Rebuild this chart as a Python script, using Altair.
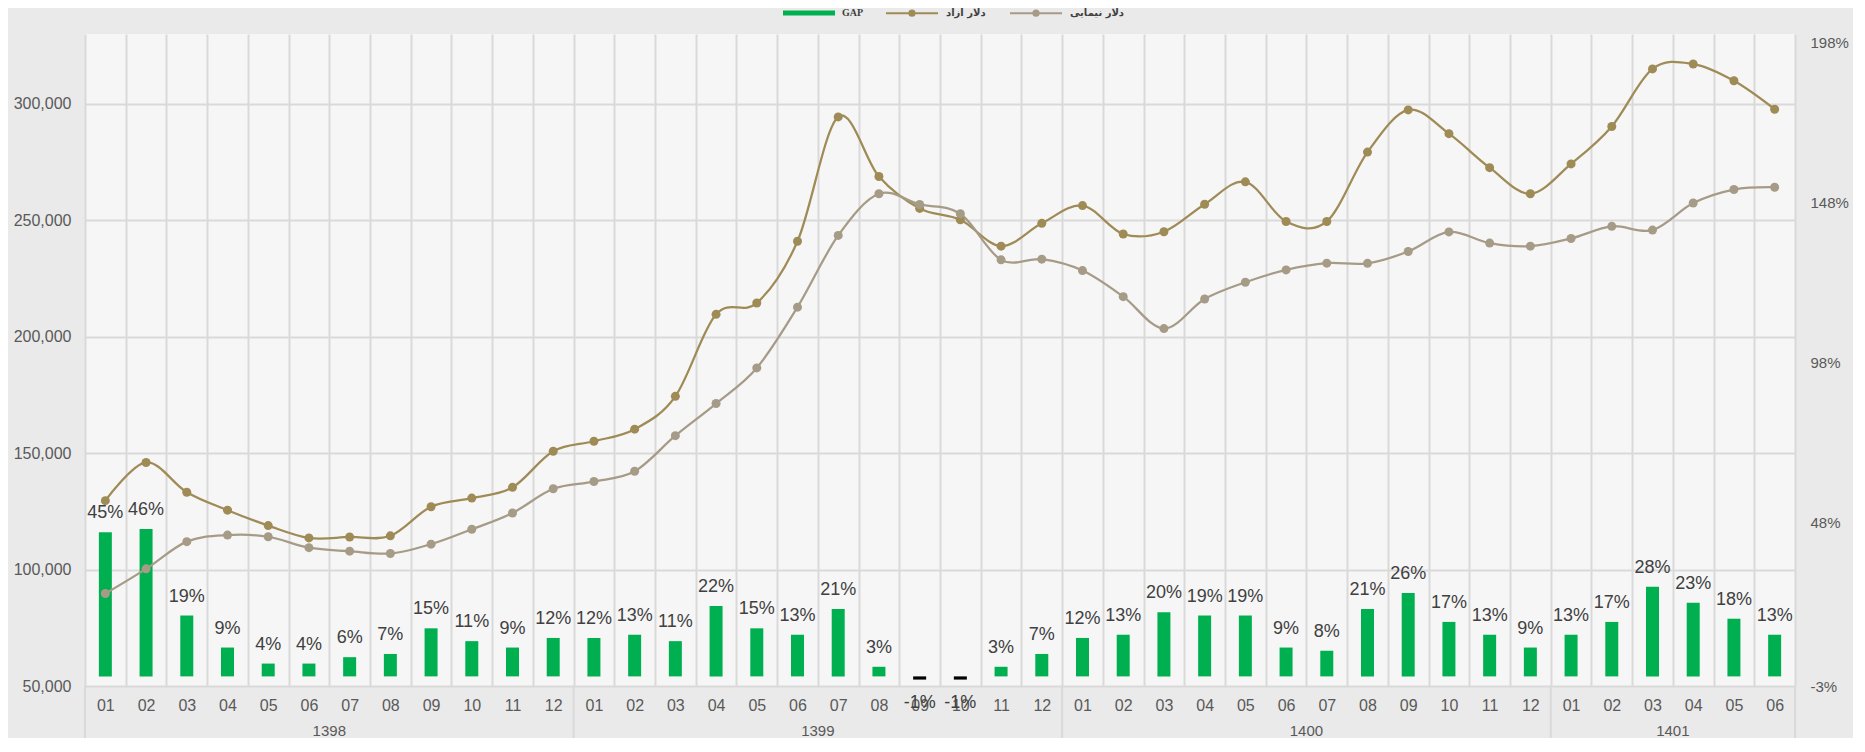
import altair as alt
import pandas as pd

# ---------------- data ----------------
years = ["1398"] * 12 + ["1399"] * 12 + ["1400"] * 12 + ["1401"] * 6
months = ["01", "02", "03", "04", "05", "06", "07", "08", "09", "10", "11", "12",
          "01", "02", "03", "04", "05", "06", "07", "08", "09", "10", "11", "12",
          "01", "02", "03", "04", "05", "06", "07", "08", "09", "10", "11", "12",
          "01", "02", "03", "04", "05", "06"]

free_usd = [129600, 146000, 133200, 125500, 118900, 113600, 114000, 114500, 127000, 130700, 135300, 150800,
            155100, 160300, 174400, 209600, 214500, 241000, 294400, 268800, 255100, 250200, 238900, 248700,
            256300, 244100, 245100, 256900, 266500, 249500, 249500, 279300, 297400, 287200, 272600, 261400,
            274200, 290300, 315000, 317100, 309900, 297700]

nima_usd = [89700, 100300, 112000, 114800, 114100, 109400, 107900, 106900, 110900, 117300, 124300, 134700,
            137800, 142200, 157500, 171300, 186600, 212700, 243500, 261400, 256800, 252800, 233000, 233300,
            228400, 217200, 203500, 216200, 223400, 228700, 231600, 231500, 236600, 245000, 240200, 238900,
            242200, 247400, 245800, 257400, 263200, 264200]

gap_pct = [45, 46, 19, 9, 4, 4, 6, 7, 15, 11, 9, 12,
           12, 13, 11, 22, 15, 13, 21, 3, -1, -1, 3, 7,
           12, 13, 20, 19, 19, 9, 8, 21, 26, 17, 13, 9,
           13, 17, 28, 23, 18, 13]

series_names = ["دلار آزاد", "دلار نیمایی"]
gap_name = "GAP"
year_labels = ["1398", "1399", "1400", "1401"]
year_first = ["1398-01", "1399-01", "1400-01", "1401-01"]
year_mid = ["1398-06", "1399-06", "1400-06", "1401-03"]

left_ticks = [50000, 100000, 150000, 200000, 250000, 300000]
right_ticks = [-0.03, 0.48, 0.98, 1.48, 1.98]

# ---------------- tables ----------------
keys = [f"{y}-{m}" for y, m in zip(years, months)]
bars_df = pd.DataFrame({
    "key": keys,
    "gap": [g / 100 for g in gap_pct],
    "label": [f"{g}%" for g in gap_pct],
    "s": gap_name,
})
lines_df = pd.DataFrame({
    "key": keys * 2,
    "value": free_usd + nima_usd,
    "series": [series_names[0]] * len(keys) + [series_names[1]] * len(keys),
})
years_df = pd.DataFrame({"year": year_labels, "anchor": year_mid, "first": year_first})
end_df = pd.DataFrame({"key": [keys[-1]]})

# ---------------- style ----------------
W, H = 1710, 652
GRID = "#d9d9d9"
TXT = "#595959"
GREEN = "#00b050"
OLIVE = "#9f8b56"
GRAY = "#a69b86"

x_scale = alt.Scale(domain=keys, paddingInner=0, paddingOuter=0)
x_axis = alt.Axis(labelExpr="split(datum.label, '-')[1]", tickBand="extent", grid=True,
                  gridColor=GRID, gridWidth=2, ticks=False, domain=False, labelAngle=0,
                  labelPadding=11, labelFontSize=16, labelColor=TXT, labelFont="Liberation Sans",
                  title=None)
x_enc = alt.X("key:N", sort=keys, scale=x_scale, axis=x_axis, title=None)

right_scale = alt.Scale(domain=[-0.03, 2.005], nice=False, zero=False)
left_scale = alt.Scale(domain=[50000, 330000], nice=False, zero=False)
right_axis = alt.Axis(orient="right", values=right_ticks, labelExpr="round(datum.value*100) + '%'",
                      ticks=False, domain=False, grid=False, labelPadding=15,
                      labelFontSize=15, labelColor=TXT, labelFont="Liberation Sans", title=None)
left_axis = alt.Axis(orient="left", values=left_ticks, format=",.0f", ticks=False, domain=False,
                     grid=True, gridColor=GRID, gridWidth=2, labelPadding=14,
                     labelFontSize=16, labelColor=TXT, labelFont="Liberation Sans", title=None)

line_legend = alt.Legend(
    title=None, orient="none", legendX=800, legendY=-48, direction="horizontal",
    symbolType="M-1,0H1M0.1,0A0.1,0.1,0,1,1,-0.1,0A0.1,0.1,0,1,1,0.1,0"
               "M0.035,0A0.035,0.035,0,1,1,-0.035,0A0.035,0.035,0,1,1,0.035,0",
    symbolSize=2704, symbolStrokeWidth=2, labelFont="DejaVu Sans", labelFontWeight="bold",
    labelFontSize=10, labelColor="#404040", labelOffset=7, columnPadding=20, padding=0,
)
gap_legend = alt.Legend(
    title=None, orient="none", legendX=697, legendY=-48, direction="horizontal",
    symbolType="M-1,-0.1H1V0.1H-1Z", symbolSize=2704, labelFont="Liberation Serif",
    labelFontWeight="bold", labelFontSize=10, labelColor="#404040", labelOffset=6, padding=0,
)

y_right = alt.Y("gap:Q", scale=right_scale, axis=right_axis, title=None)

# ---------------- GAP bars (right axis) ----------------
bars = alt.Chart(bars_df).mark_bar(size=13).encode(
    x=x_enc,
    y=y_right,
    fill=alt.condition("datum.gap < 0", alt.value("#000000"),
                       alt.Fill("s:N", scale=alt.Scale(domain=[gap_name], range=[GREEN]), legend=gap_legend)),
)
pos_labels = alt.Chart(bars_df).transform_filter("datum.gap >= 0").mark_text(
    baseline="alphabetic", dy=-14, fontSize=18, color="#404040", font="Liberation Sans"
).encode(x=x_enc, y=y_right, text="label:N")
neg_labels = alt.Chart(bars_df).transform_filter("datum.gap < 0").mark_text(
    baseline="top", dy=14, fontSize=18, color="#404040", font="Liberation Sans"
).encode(x=x_enc, y=y_right, text="label:N")

# ---------------- dollar lines (left axis) ----------------
color_enc = alt.Color("series:N", scale=alt.Scale(domain=series_names, range=[OLIVE, GRAY]), legend=line_legend)
lines = alt.Chart(lines_df).mark_line(
    interpolate="cardinal", strokeWidth=2.25,
    point=alt.OverlayMarkDef(filled=True, size=81, opacity=1),
).encode(
    x=x_enc,
    y=alt.Y("value:Q", scale=left_scale, axis=left_axis, title=None),
    color=color_enc,
)

# ---------------- year separators and labels ----------------
seps = alt.Chart(years_df).mark_rule(color=GRID, strokeWidth=2).encode(
    x=alt.X("first:N", bandPosition=0, sort=keys, scale=x_scale, axis=x_axis, title=None),
    y=alt.value(H), y2=alt.value(H + 80),
)
end_sep = alt.Chart(end_df).mark_rule(color=GRID, strokeWidth=2).encode(
    x=alt.X("key:N", bandPosition=1, sort=keys, scale=x_scale, axis=x_axis, title=None),
    y=alt.value(H), y2=alt.value(H + 80),
)
year_text = alt.Chart(years_df).mark_text(baseline="middle", fontSize=15, color=TXT, font="Liberation Sans").encode(
    x=alt.X("anchor:N", bandPosition=1, sort=keys, scale=x_scale, axis=x_axis, title=None),
    y=alt.value(H + 45), text="year:N",
)

right_layer = alt.layer(bars, pos_labels, neg_labels)
chart = alt.layer(right_layer, lines, seps, end_sep, year_text).resolve_scale(
    y="independent"
).properties(
    width=W, height=H,
    padding={"left": 77, "top": 26, "right": 58, "bottom": 52},
    autosize=alt.AutoSizeParams(type="none"),
).configure(
    background="#eaeaea",
).configure_view(fill="#f6f6f6", strokeWidth=0)

chart.save("out.html", embed_options={"renderer": "svg", "actions": False})
